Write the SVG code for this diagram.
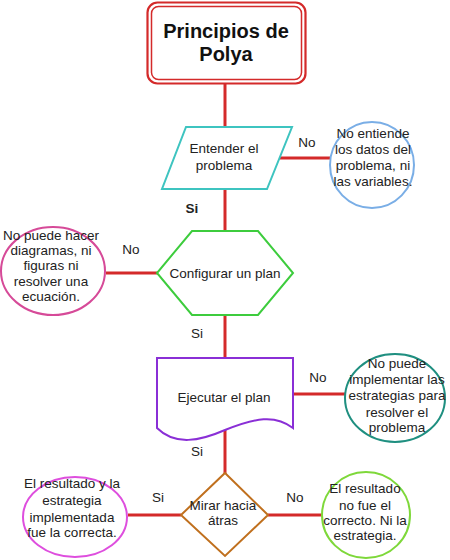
<svg xmlns="http://www.w3.org/2000/svg" width="450" height="560" viewBox="0 0 450 560">
<style>
text{font-family:"Liberation Sans",Arial,sans-serif;font-size:13.5px;fill:#222;text-anchor:middle}
.t{font-size:20px;font-weight:bold;fill:#111}
.b{font-weight:bold}
.c{stroke:#d42a2a;stroke-width:3;fill:none}
.n{fill:#fff;stroke-width:2}
</style>
<rect width="450" height="560" fill="#fff"/>
<g id="connectors">
<line class="c" x1="225" y1="84" x2="225" y2="128"/>
<line class="c" x1="225" y1="189" x2="225" y2="232"/>
<line class="c" x1="225" y1="315" x2="225" y2="358"/>
<line class="c" x1="225" y1="430" x2="225" y2="474"/>
<line class="c" x1="277" y1="158" x2="331" y2="158"/>
<line class="c" x1="106" y1="273" x2="158" y2="273"/>
<line class="c" x1="293" y1="394" x2="346" y2="394"/>
<line class="c" x1="128" y1="515" x2="181" y2="515"/>
<line class="c" x1="268" y1="515" x2="323" y2="515"/>
<text x="307" y="147">No</text>
<text x="192" y="213" class="b">Si</text>
<text x="131" y="254">No</text>
<text x="197" y="338">Si</text>
<text x="318" y="382">No</text>
<text x="197" y="456">Si</text>
<text x="158" y="502">Si</text>
<text x="295" y="502">No</text>
</g>
<g id="title">
<rect x="147.5" y="2.5" width="158" height="81" rx="10" fill="#fff" stroke="#d42a2a" stroke-width="2.2"/>
<rect x="151.5" y="6.5" width="150" height="73" rx="7" fill="none" stroke="#d42a2a" stroke-width="1.5"/>
<text class="t" x="226" y="38">Principios de</text>
<text class="t" x="226" y="61">Polya</text>
</g>
<g id="entender">
<polygon class="n" points="186,127 292,127 267,189 162,189" stroke="#3ec4c0"/>
<text x="224" y="153">Entender el</text>
<text x="224" y="170">problema</text>
</g>
<g id="no-entiende">
<ellipse class="n" cx="372" cy="165" rx="42" ry="43" stroke="#7aaee6"/>
<text x="373" y="138">No entiende</text>
<text x="373" y="154">los datos del</text>
<text x="373" y="170">problema, ni</text>
<text x="373" y="186">las variables.</text>
</g>
<g id="configurar">
<polygon class="n" points="192,231 258,231 293,273 258,315 192,315 157,273" stroke="#3dcc3d"/>
<text x="225" y="278">Configurar un plan</text>
</g>
<g id="no-puede-hacer">
<ellipse class="n" cx="53" cy="271" rx="52" ry="44" stroke="#d64a98"/>
<text x="51" y="240">No puede hacer</text>
<text x="51" y="255">diagramas, ni</text>
<text x="51" y="270">figuras ni</text>
<text x="51" y="286">resolver una</text>
<text x="51" y="301">ecuación.</text>
</g>
<g id="ejecutar">
<path class="n" d="M157,358 H293 V428 C275,414 255,418 225,430 C200,441 175,446 157,428 Z" stroke="#8a2fd6"/>
<text x="224" y="402">Ejecutar el plan</text>
</g>
<g id="no-puede-implementar">
<ellipse class="n" cx="395" cy="398" rx="50" ry="44" stroke="#1f8f80"/>
<text x="397" y="368">No puede</text>
<text x="397" y="384">implementar las</text>
<text x="397" y="400">estrategias para</text>
<text x="397" y="417">resolver el</text>
<text x="397" y="432">problema</text>
</g>
<g id="mirar">
<polygon class="n" points="225,473 268,515 225,556 181,515" stroke="#c0701e"/>
<text x="223" y="510">Mirar hacia</text>
<text x="223" y="525">átras</text>
</g>
<g id="correcta">
<ellipse class="n" cx="75" cy="517" rx="52" ry="40" stroke="#de4ede"/>
<text x="72" y="488">El resultado y la</text>
<text x="72" y="505">estrategia</text>
<text x="72" y="522">implementada</text>
<text x="72" y="537">fue la correcta.</text>
</g>
<g id="no-correcto">
<ellipse class="n" cx="366" cy="515" rx="44" ry="43" stroke="#7ed83a"/>
<text x="365" y="493">El resultado</text>
<text x="365" y="510">no fue el</text>
<text x="365" y="525">correcto. Ni la</text>
<text x="365" y="540">estrategia.</text>
</g>
</svg>
